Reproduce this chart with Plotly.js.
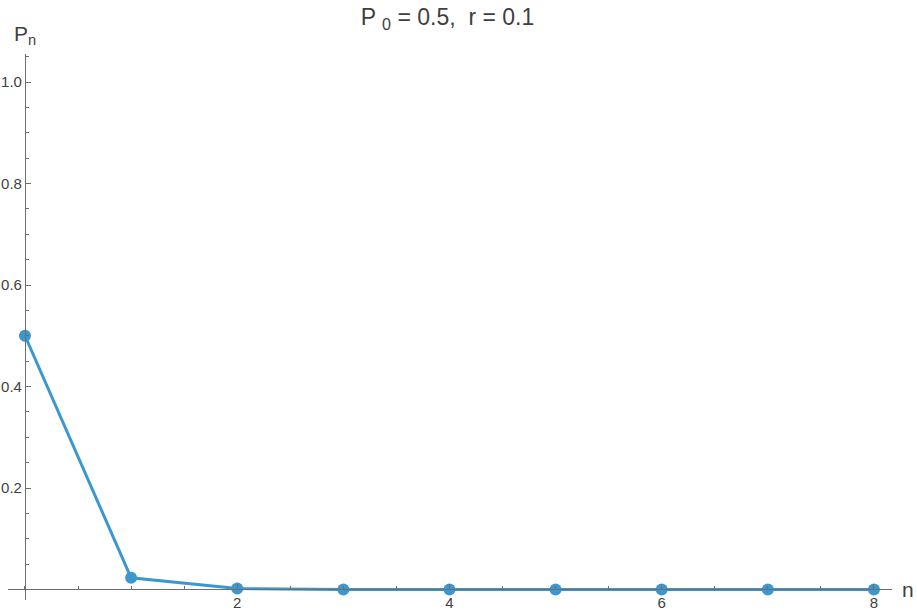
<!DOCTYPE html>
<html>
<head>
<meta charset="utf-8">
<script src="https://cdn.plot.ly/plotly-3.0.1.min.js"></script>
<style>
  html, body { margin: 0; padding: 0; background: #fff; }
  #graph { width: 917px; height: 614px; }
</style>
</head>
<body>
<div id="graph"></div>
<script>
// values
let n = [0, 1, 2, 3, 4, 5, 6, 7, 8];
let pn = [0.5, 0.023, 0.002, 0, 0, 0, 0, 0, 0];
let xTicks = [2, 4, 6, 8];
let xTickText = ["2", "4", "6", "8"];
let yTicks = [0.2, 0.4, 0.6, 0.8, 1.0];
let yTickText = ["0.2", "0.4", "0.6", "0.8", "1.0"];

let xRange = [-0.16, 8.17];
let yRange = [-0.0207, 1.0552];

let font = "Liberation Sans, Arial, sans-serif";
let lineColor = "#3b97d0";
let axisColor = "#6e6e6e";
let textColor = "#3f3f3f";

let trace = {
    x: n,
    y: pn,
    mode: "lines+markers",
    line: {color: lineColor, width: 3},
    marker: {color: lineColor, size: 12},
    hoverinfo: "skip"
};

// axes cross at the origin, like the original
let xPos = (0 - yRange[0]) / (yRange[1] - yRange[0]);
let yPos = (0 - xRange[0]) / (xRange[1] - xRange[0]);

let tickFont = {family: font, size: 15, color: textColor};

let layout = {
    width: 917,
    height: 614,
    margin: {l: 8, r: 25, t: 54, b: 14},
    paper_bgcolor: "#fff",
    plot_bgcolor: "#fff",
    showlegend: false,
    font: {family: font, size: 15, color: textColor},
    title: {
        text: "P <sub>0</sub> = 0.5,  r = 0.1",
        font: {family: font, size: 23, color: textColor},
        x: 0.488,
        xanchor: "center",
        y: 0.972,
        yanchor: "middle"
    },
    xaxis: {
        range: xRange,
        anchor: "free",
        position: xPos,
        showgrid: false,
        zeroline: false,
        showline: true,
        linecolor: axisColor,
        linewidth: 1,
        tickmode: "array",
        tickvals: xTicks,
        ticktext: xTickText,
        ticks: "inside",
        ticklen: 5,
        tickcolor: axisColor,
        tickfont: tickFont,
        minor: {dtick: 0.5, tick0: 0, ticks: "inside", ticklen: 3, tickcolor: axisColor, showgrid: false},
        fixedrange: true
    },
    yaxis: {
        range: yRange,
        anchor: "free",
        position: yPos,
        showgrid: false,
        zeroline: false,
        showline: true,
        linecolor: axisColor,
        linewidth: 1,
        tickmode: "array",
        tickvals: yTicks,
        ticktext: yTickText,
        ticks: "inside",
        ticklen: 5,
        tickcolor: axisColor,
        tickfont: tickFont,
        minor: {dtick: 0.05, tick0: 0, ticks: "inside", ticklen: 3, tickcolor: axisColor, showgrid: false},
        fixedrange: true
    },
    annotations: [
        {
            text: "P<sub>n</sub>",
            xref: "paper", yref: "paper",
            x: yPos, y: 1,
            xanchor: "center", yanchor: "bottom",
            yshift: 4,
            showarrow: false,
            font: {family: font, size: 21, color: textColor}
        },
        {
            text: "n",
            xref: "paper", yref: "paper",
            x: 1, y: xPos,
            xanchor: "left", yanchor: "middle",
            xshift: 8,
            showarrow: false,
            font: {family: font, size: 21, color: textColor}
        }
    ]
};

Plotly.newPlot("graph", [trace], layout, {staticPlot: true});
</script>
</body>
</html>
